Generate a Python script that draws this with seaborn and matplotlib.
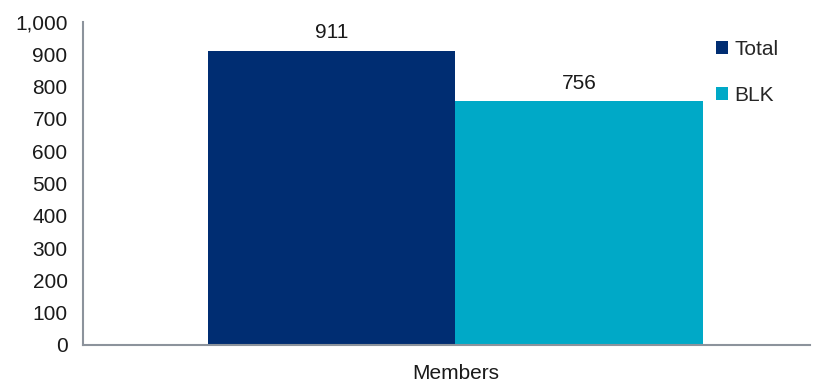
import matplotlib
matplotlib.use("Agg")
import matplotlib.pyplot as plt
import seaborn as sns
import pandas as pd
from matplotlib.patches import Patch

categories = ["Members"]
series = ["Total", "BLK"]
values = [911, 756]
colors = ["#002D72", "#00A9C7"]

df = pd.DataFrame({"cat": categories * len(series), "series": series, "value": values})

sns.set_style("white")
plt.rcParams["font.family"] = ["Liberation Sans", "DejaVu Sans"]

FS = 15
fig = plt.figure(figsize=(8.2, 3.84), dpi=100)
ax = fig.add_axes([0.101, 0.1016, 0.887, 0.841])
sns.barplot(data=df, x="cat", y="value", hue="series", palette=colors,
            width=0.8, saturation=1, ax=ax, legend=False, linewidth=0)

for c in ax.containers:
    ax.bar_label(c, labels=[f"{v:,.0f}" for v in c.datavalues], padding=6, fontsize=FS, color="#1a1a1a")

ax.set_ylim(0, 1000)
ax.set_yticks(range(0, 1001, 100))
ax.set_yticklabels([f"{v:,}" for v in range(0, 1001, 100)], fontsize=FS, color="#1a1a1a")
ax.set_xlim(-0.602, 0.573)
ax.set_xticks([0])
ax.set_xticklabels(categories, fontsize=FS, color="#1a1a1a")
ax.tick_params(axis="y", length=0, pad=11)
ax.tick_params(axis="x", length=0, pad=14)
ax.set_xlabel("")
ax.set_ylabel("")
for s in ["top", "right"]:
    ax.spines[s].set_visible(False)
for s in ["left", "bottom"]:
    ax.spines[s].set_color("#8C939C")
    ax.spines[s].set_linewidth(1.5)

handles = [Patch(facecolor=c, edgecolor="none") for c in colors]
fig.legend(handles, series, loc="upper left", bbox_to_anchor=(0.85, 0.945), frameon=False,
           fontsize=FS, handlelength=0.6, handleheight=0.6, handletextpad=0.3, labelspacing=1.3)

fig.savefig("out.png", dpi=100)
